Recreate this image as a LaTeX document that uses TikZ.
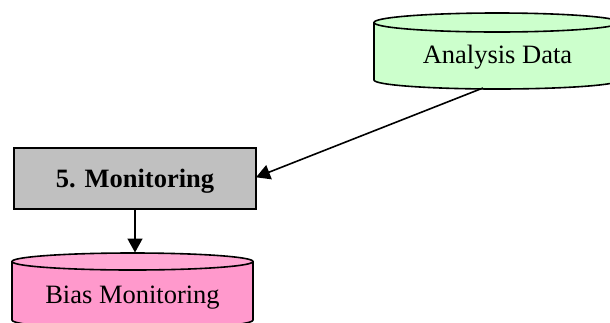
\documentclass[tikz,border=0pt]{standalone}
\usepackage{fontspec}
\setmainfont{Liberation Serif}
\usetikzlibrary{arrows.meta}
\definecolor{dgreen}{HTML}{CCFFCC}
\definecolor{dpink}{HTML}{FF99CC}
\definecolor{dpinktop}{HTML}{FFA8D4}
\definecolor{dgray}{HTML}{C0C0C0}
\tikzset{
  edge/.style={draw=black, line width=1.6pt},
  arr/.style={edge, -{Triangle[length=14pt,width=15pt]}},
  lbl/.style={inner sep=0pt, anchor=base, font=\fontsize{26.5}{30}\selectfont},
  cyl/.style={draw=black, line width=1.6pt}
}
\begin{document}
\begin{tikzpicture}[x=1pt,y=-1pt]
\useasboundingbox (0,0) rectangle (610,322);
\begin{scope}
\clip (0,0) rectangle (610,322);
% Analysis Data cylinder
\fill[dgreen] (374,22.5) -- (374,80) arc[start angle=180,end angle=360,x radius=123,y radius=-9] -- (620,22.5) arc[start angle=0,end angle=180,x radius=123,y radius=-9.5] -- cycle;
\draw[cyl] (374,22.5) -- (374,80) arc[start angle=180,end angle=360,x radius=123,y radius=-9] -- (620,22.5);
\draw[cyl] (497,22.5) ellipse[x radius=123,y radius=9.5];
\coordinate (adbot) at (483,88);
% Bias Monitoring cylinder
\fill[dpink] (12,261.5) -- (12,320) arc[start angle=180,end angle=360,x radius=120.5,y radius=-9] -- (253,261.5) arc[start angle=0,end angle=180,x radius=120.5,y radius=-8.5] -- cycle;
\fill[dpinktop] (132.5,261.5) ellipse[x radius=120.5,y radius=8.5];
\draw[cyl] (12,261.5) -- (12,320) arc[start angle=180,end angle=360,x radius=120.5,y radius=-9] -- (253,261.5);
\draw[cyl] (132.5,261.5) ellipse[x radius=120.5,y radius=8.5];
\end{scope}
\coordinate (bmtop) at (135,252.5);
% Monitoring box
\node[draw=black, line width=1.6pt, fill=dgray, minimum width=242pt, minimum height=61pt, inner sep=0pt] (mon) at (135,178.5) {};
\node[lbl, font=\fontsize{26.5}{30}\selectfont\bfseries] (montxt) at (135,187) {5. Monitoring};
\node[lbl] (adtxt) at (497.5,63) {Analysis Data};
\node[lbl] (bmtxt) at (132.5,303) {Bias Monitoring};
% connectors
\coordinate (monin) at (256,177.3);
\draw[arr] (adbot) -- (monin);
\draw[arr] (mon.south -| bmtop) -- (bmtop);
\end{tikzpicture}
\end{document}
